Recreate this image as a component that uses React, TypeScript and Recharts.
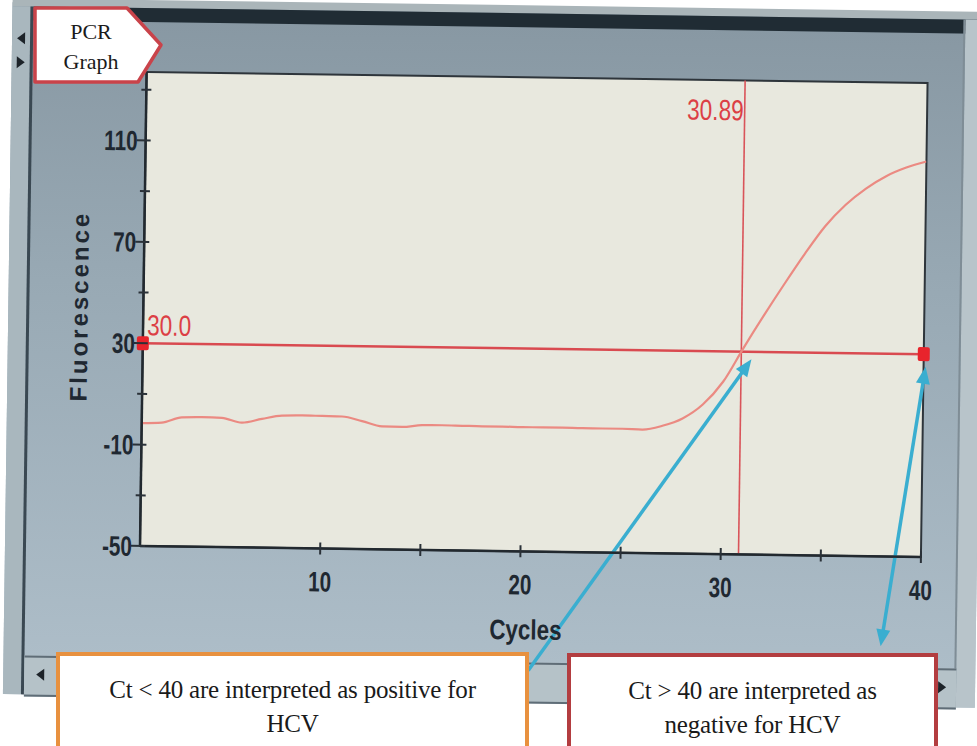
import React from 'react';
import {
  ComposedChart,
  Line,
  XAxis,
  YAxis,
  ReferenceLine,
  ReferenceDot,
  ReferenceArea,
} from 'recharts';

// ---------- data ----------
const cycles = [
  1, 2, 3, 4, 5, 6, 7, 8, 9, 10, 11, 12, 13, 14, 15, 16, 17, 18, 19, 20,
  21, 22, 23, 24, 25, 26, 27, 28, 29, 30, 31, 32, 33, 34, 35, 36, 37, 38, 39, 40,
];
const fluorescence = [
  -1.5, -1.2, 1.0, 1.2, 1.0, -0.8, 0.8, 2.2, 2.4, 2.3,
  2.2, 0.5, -1.5, -1.6, -0.8, -0.7, -0.8, -0.9, -0.9, -1.0,
  -1.0, -1.0, -1.1, -1.1, -1.1, -1.3, 0.3, 3.3, 8.9, 18.0,
  31.5, 44.5, 57.0, 69.0, 80.0, 88.5, 95.0, 100.0, 103.5, 106.0,
];
const xTicks = [10, 15, 20, 25, 30, 35, 40];
const xLabelTicks = [10, 20, 30, 40];
const yTicks = [-50, -30, -10, 10, 30, 50, 70, 90, 110, 130];
const yLabelTicks = [-50, -10, 30, 70, 110];
const xDomain = [1, 40];
const yDomain = [-50, 137];
const threshold = 30;
const thresholdLabel = '30.0';
const ctValue = 30.89;
const ctLabel = '30.89';
const arrowPositive = [
  { x: 20.47, y: -97 },
  { x: 31.4, y: 27 },
];
const arrowNegative = [
  { x: 38.05, y: -85.5 },
  { x: 40.1, y: 25 },
];
const positiveText = ['Ct < 40 are interpreted as positive for', 'HCV'];
const negativeText = ['Ct > 40 are interpreted as', 'negative for HCV'];

const data = cycles.map((c, i) => ({ cycle: c, fluorescence: fluorescence[i] }));

// ---------- styles ----------
const SANS = "'Liberation Sans', Arial, sans-serif";
const SERIF = "'Liberation Serif', 'Times New Roman', serif";
const AXIS_DARK = '#1f2831';
const RED = '#dc3f45';
const CYAN = '#3aaed0';

// condensed text (narrow font look) drawn with a horizontal scale
const NText = (p: {
  x: number;
  y: number;
  anchor?: string;
  size?: number;
  weight?: number;
  fill?: string;
  sx?: number;
  children: React.ReactNode;
}) => (
  <text
    transform={`translate(${p.x},${p.y}) scale(${p.sx ?? 0.74},1)`}
    x={0}
    y={0}
    textAnchor={p.anchor ?? 'middle'}
    fontSize={p.size ?? 28}
    fontWeight={p.weight ?? 700}
    fill={p.fill ?? AXIS_DARK}
    fontFamily={SANS}
  >
    {p.children}
  </text>
);

const YTick = (props: any) => {
  const { x, y, payload } = props;
  const v = payload.value;
  const major = yLabelTicks.includes(v);
  return (
    <g>
      <line x1={major ? x - 9 : x - 5} x2={x + 5} y1={y} y2={y} stroke="#2a3138" strokeWidth={2} />
      {major && (
        <NText x={x - 8} y={y + 10} anchor="end">
          {v}
        </NText>
      )}
    </g>
  );
};

const XTick = (props: any) => {
  const { x, y, payload } = props;
  const v = payload.value;
  const major = xLabelTicks.includes(v);
  return (
    <g>
      <line x1={x} x2={x} y1={y - 6} y2={y + 6} stroke="#2a3138" strokeWidth={2} />
      {major && (
        <NText x={x} y={y + 43}>
          {v}
        </NText>
      )}
    </g>
  );
};

const makeArrow = (doubleHeaded: boolean) => (props: any) => {
  const { x1, y1, x2, y2 } = props;
  const dx = x2 - x1;
  const dy = y2 - y1;
  const len = Math.sqrt(dx * dx + dy * dy) || 1;
  const ux = dx / len;
  const uy = dy / len;
  const hl = 17;
  const hw = 7;
  const head = (tx: number, ty: number, dirx: number, diry: number) => {
    const bx = tx - dirx * hl;
    const by = ty - diry * hl;
    const px = -diry * hw;
    const py = dirx * hw;
    return `${tx},${ty} ${bx + px},${by + py} ${bx - px},${by - py}`;
  };
  const sx = doubleHeaded ? x1 + ux * (hl - 4) : x1;
  const sy = doubleHeaded ? y1 + uy * (hl - 4) : y1;
  const ex = x2 - ux * (hl - 4);
  const ey = y2 - uy * (hl - 4);
  return (
    <g>
      <line x1={sx} y1={sy} x2={ex} y2={ey} stroke={CYAN} strokeWidth={3.5} />
      <polygon points={head(x2, y2, ux, uy)} fill={CYAN} />
      {doubleHeaded && <polygon points={head(x1, y1, -ux, -uy)} fill={CYAN} />}
    </g>
  );
};

const SquareDot = (props: any) => {
  const { cx, cy } = props;
  return <rect x={cx - 6} y={cy - 7} width={12} height={14} rx={2} fill="#e8242c" />;
};

const Tri = ({ x, y, dir }: { x: number; y: number; dir: 'l' | 'r' }) => (
  <polygon
    points={dir === 'l' ? `${x + 4},${y - 6} ${x + 4},${y + 6} ${x - 4},${y}` : `${x - 4},${y - 6} ${x - 4},${y + 6} ${x + 4},${y}`}
    fill="#1d2329"
  />
);

const boxStyle: React.CSSProperties = {
  position: 'absolute',
  height: 100,
  boxSizing: 'border-box',
  background: '#ffffff',
  fontFamily: SERIF,
  fontSize: 25,
  lineHeight: '34px',
  color: '#1a1a1a',
  textAlign: 'center',
  paddingTop: 17,
  whiteSpace: 'nowrap',
  letterSpacing: -0.2,
};

export default function App() {
  return (
    <div
      style={{
        position: 'absolute',
        left: 0,
        top: 0,
        width: 977,
        height: 746,
        overflow: 'hidden',
        background: '#ffffff',
      }}
    >
      {/* the photographed screen, slightly rotated */}
      <div
        style={{
          position: 'absolute',
          left: 0,
          top: 0,
          width: 977,
          height: 746,
          transform: 'rotate(0.8deg)',
          transformOrigin: '140px 546px',
        }}
      >
        {/* panel */}
        <div
          style={{
            position: 'absolute',
            left: 5,
            top: 4,
            width: 972,
            height: 692,
            background: 'linear-gradient(180deg, #8797a2 0%, #98a9b4 40%, #afbfca 100%)',
          }}
        />
        {/* top strips */}
        <div style={{ position: 'absolute', left: 5, top: 0, width: 972, height: 8, background: '#aab5b9' }} />
        <div style={{ position: 'absolute', left: 26, top: 8, width: 951, height: 14, background: '#202c34' }} />
        {/* left column */}
        <div style={{ position: 'absolute', left: 5, top: 8, width: 18, height: 688, background: '#a9b7be' }} />
        <div style={{ position: 'absolute', left: 23, top: 8, width: 3, height: 688, background: '#3a4852' }} />
        {/* right column */}
        <div style={{ position: 'absolute', left: 958, top: 8, width: 19, height: 688, background: '#b8c4ca' }} />
        <div style={{ position: 'absolute', left: 956, top: 8, width: 2, height: 688, background: '#7f8d96' }} />
        {/* bottom scrollbar */}
        <div
          style={{
            position: 'absolute',
            left: 26,
            top: 657,
            width: 932,
            height: 37,
            background: '#b5c2c8',
            borderTop: '2px solid #5f6d77',
            borderBottom: '2px solid #5f6d77',
          }}
        />
        <svg width={977} height={746} style={{ position: 'absolute', left: 0, top: 0 }}>
          <Tri x={14} y={40} dir="l" />
          <Tri x={14} y={64} dir="r" />
          <Tri x={42} y={676} dir="l" />
          <Tri x={944} y={676} dir="r" />
        </svg>

        <ComposedChart
          width={977}
          height={746}
          data={data}
          margin={{ top: 72, right: 56, bottom: 100, left: 40 }}
          style={{ position: 'absolute', left: 0, top: 0 }}
        >
          <ReferenceArea
            x1={xDomain[0]}
            x2={xDomain[1]}
            y1={yDomain[0]}
            y2={yDomain[1]}
            fill="#e8e8de"
            fillOpacity={1}
            stroke="#2e353b"
            strokeWidth={2}
            ifOverflow="visible"
          />
          <XAxis
            dataKey="cycle"
            type="number"
            domain={xDomain}
            ticks={xTicks}
            tick={<XTick />}
            tickLine={false}
            tickSize={0}
            tickMargin={0}
            interval={0}
            height={100}
            axisLine={{ stroke: '#22292f', strokeWidth: 2.5 }}
            allowDataOverflow
            label={{
              content: (p: any) => {
                const vb = p.viewBox || { x: 140, y: 546, width: 781, height: 100 };
                return (
                  <NText x={vb.x + vb.width / 2 - 4} y={vb.y + 88} size={28} weight={700} sx={0.8}>
                    Cycles
                  </NText>
                );
              },
            }}
          />
          <YAxis
            type="number"
            domain={yDomain}
            ticks={yTicks}
            tick={<YTick />}
            tickLine={false}
            tickSize={0}
            tickMargin={0}
            interval={0}
            width={100}
            axisLine={{ stroke: '#22292f', strokeWidth: 2.5 }}
            allowDataOverflow
            label={{
              content: (p: any) => {
                const vb = p.viewBox || { x: 40, y: 72, width: 100, height: 474 };
                const cx = vb.x + 36;
                const cy = vb.y + vb.height / 2 - 2;
                return (
                  <text
                    x={cx}
                    y={cy}
                    transform={`rotate(-90 ${cx} ${cy})`}
                    textAnchor="middle"
                    dominantBaseline="central"
                    fontSize={24}
                    fontWeight={700}
                    letterSpacing={3}
                    fill={AXIS_DARK}
                    fontFamily={SANS}
                  >
                    Fluorescence
                  </text>
                );
              },
            }}
          />
          <ReferenceLine
            x={ctValue}
            stroke="#d9545a"
            strokeWidth={1.6}
            label={{
              content: (p: any) => {
                const vb = p.viewBox;
                if (!vb) return null;
                return (
                  <NText x={vb.x - 1} y={vb.y + 40} anchor="end" size={29} weight={400} fill={RED} sx={0.78}>
                    {ctLabel}
                  </NText>
                );
              },
            }}
          />
          <ReferenceLine
            y={threshold}
            stroke="#d94a50"
            strokeWidth={2.5}
            label={{
              content: (p: any) => {
                const vb = p.viewBox;
                if (!vb) return null;
                return (
                  <NText x={vb.x + 4} y={vb.y - 8} anchor="start" size={29} weight={400} fill={RED} sx={0.78}>
                    {thresholdLabel}
                  </NText>
                );
              },
            }}
          />
          <Line
            dataKey="fluorescence"
            type="monotone"
            stroke="#eb8a82"
            strokeWidth={2.2}
            dot={false}
            activeDot={false}
            isAnimationActive={false}
          />
          <ReferenceDot x={xDomain[0]} y={threshold} shape={SquareDot} ifOverflow="visible" />
          <ReferenceDot x={xDomain[1]} y={threshold} shape={SquareDot} ifOverflow="visible" />
          <ReferenceLine segment={arrowPositive} ifOverflow="visible" shape={makeArrow(false)} />
          <ReferenceLine segment={arrowNegative} ifOverflow="visible" shape={makeArrow(true)} />
        </ComposedChart>
      </div>

      {/* tab */}
      <svg width={200} height={100} style={{ position: 'absolute', left: 0, top: 0 }}>
        <polygon
          points="35,8 127,8 161,45 138,82 35,82"
          fill="#ffffff"
          stroke="#c9434a"
          strokeWidth={3.5}
          strokeLinejoin="round"
        />
        <text x={91} y={39} textAnchor="middle" fontSize={22} fill="#1b1b1b" fontFamily={SERIF}>
          PCR
        </text>
        <text x={91} y={69} textAnchor="middle" fontSize={22} fill="#1b1b1b" fontFamily={SERIF}>
          Graph
        </text>
      </svg>

      {/* annotation boxes */}
      <div style={{ ...boxStyle, left: 56, top: 652, width: 473, border: '4px solid #e8913f' }}>
        {positiveText[0]}
        <br />
        {positiveText[1]}
      </div>
      <div style={{ ...boxStyle, left: 567, top: 653, width: 371, border: '4px solid #b33d40' }}>
        {negativeText[0]}
        <br />
        {negativeText[1]}
      </div>
    </div>
  );
}
